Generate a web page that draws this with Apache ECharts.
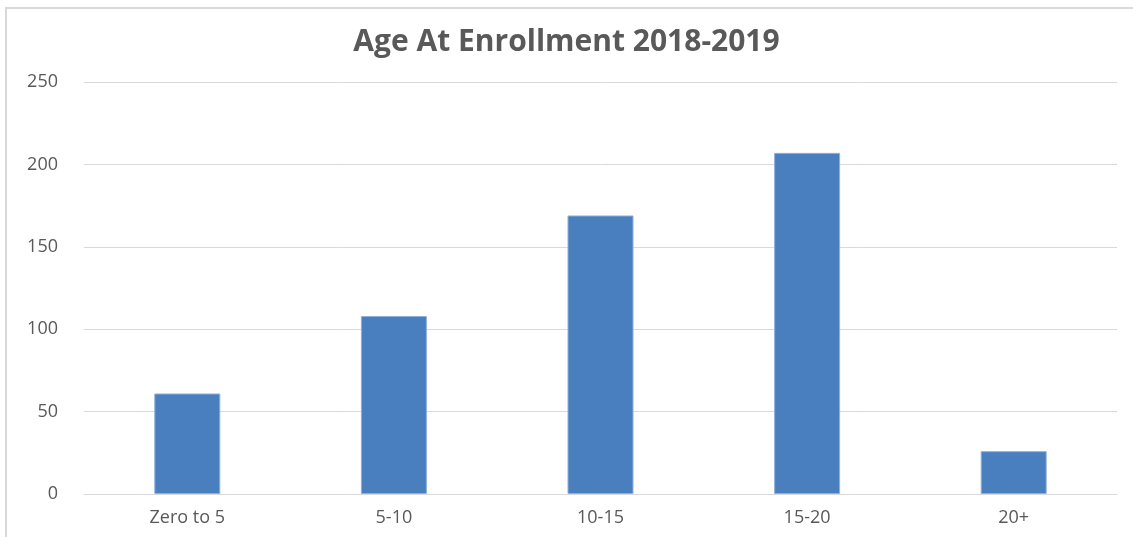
<!DOCTYPE html>
<html>
<head>
<meta charset="utf-8">
<script src="https://cdn.jsdelivr.net/npm/echarts@6/dist/echarts.min.js"></script>
<style>
    html, body { margin: 0; padding: 0; background: #fff; }
    #ageChart { width: 1133px; height: 537px; }
</style>
</head>
<body>
<div id="ageChart"></div>
<script>
// 年龄分组 和 人数
var ageGroups = ['Zero to 5', '5-10', '10-15', '15-20', '20+'];
var enrollCounts = [61, 108, 169, 207, 26];
var yTicks = [0, 50, 100, 150, 200, 250];

var ageChart = echarts.init(document.getElementById('ageChart'));
var ageChartOption = {
    backgroundColor: '#ffffff',
    animation: false,
    title: {
        text: 'Age At Enrollment 2018-2019',
        left: 'center',
        top: 22,
        textStyle: {
            fontFamily: 'Open Sans',
            fontWeight: 'bold',
            fontSize: 30,
            color: '#595959'
        }
    },
    graphic: [{
        type: 'rect',
        shape: { x: 6, y: 8, width: 1200, height: 600 },
        style: { fill: 'none', stroke: '#d9d9d9', lineWidth: 2 },
        silent: true
    }],
    grid: {
        left: 84,
        right: 16,
        top: 82,
        bottom: 43
    },
    xAxis: {
        type: 'category',
        data: ageGroups,
        axisTick: { show: false },
        axisLine: {
            lineStyle: { color: '#d9d9d9', width: 1 }
        },
        axisLabel: {
            margin: 15,
            fontFamily: 'Open Sans',
            fontSize: 18,
            color: '#595959'
        }
    },
    yAxis: {
        type: 'value',
        min: yTicks[0],
        max: yTicks[yTicks.length - 1],
        interval: 50,
        axisLine: { show: false },
        axisTick: { show: false },
        axisLabel: {
            margin: 26,
            fontFamily: 'Open Sans',
            fontSize: 18,
            color: '#595959'
        },
        splitLine: {
            lineStyle: { color: '#d9d9d9', width: 1 }
        }
    },
    series: [{
        name: 'Age At Enrollment',
        type: 'bar',
        barWidth: 66,
        itemStyle: {
            color: '#4a7fbf',
            borderColor: '#8fb0da',
            borderWidth: 1
        },
        data: enrollCounts
    }]
};
ageChart.setOption(ageChartOption);
</script>
</body>
</html>
